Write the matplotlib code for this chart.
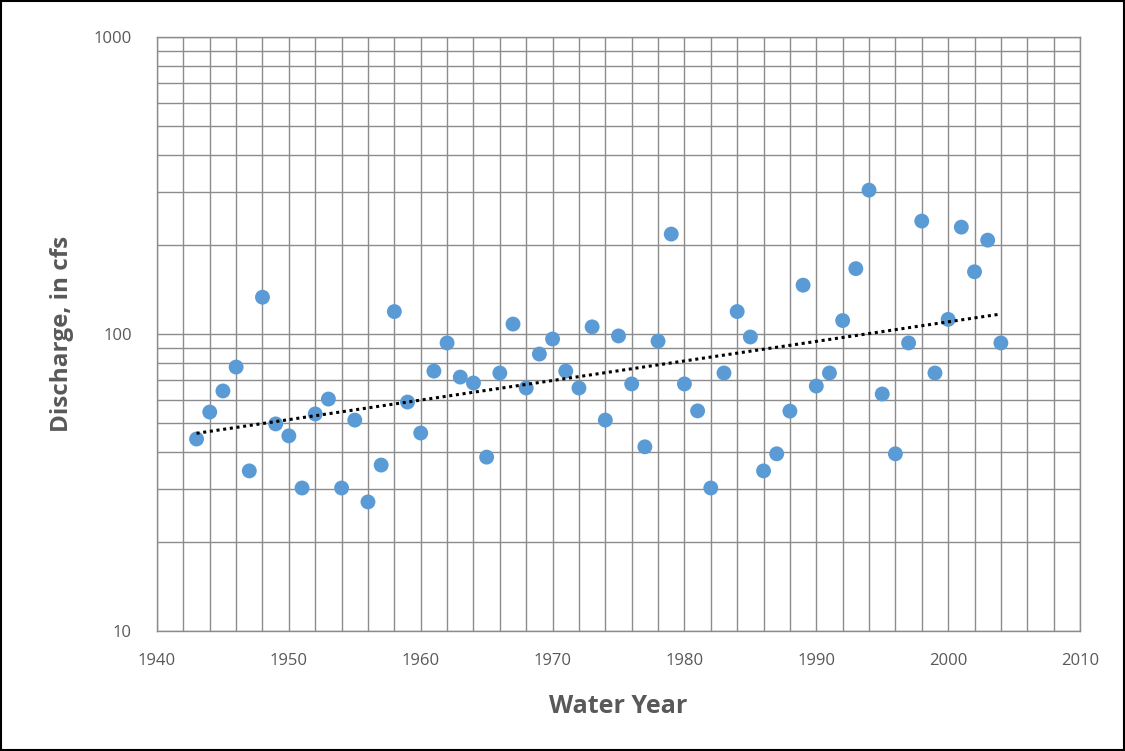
import numpy as np
import matplotlib
matplotlib.use("Agg")
import matplotlib.pyplot as plt
from matplotlib.ticker import FixedLocator, NullFormatter, MultipleLocator
from matplotlib.patches import Rectangle

years = list(range(1943, 2005))
discharge = [44.3, 54.6, 64.3, 77.4, 34.6, 133, 49.8, 45.4, 30.3, 53.8,
             60.4, 30.3, 51.3, 27.2, 36.2, 119, 59.0, 46.4, 75, 93.3,
             71.6, 68.4, 38.5, 73.9, 108, 65.8, 85.6, 96.2, 75, 65.8,
             105.7, 51.3, 98.5, 67.9, 41.7, 94.6, 217, 67.9, 55.1, 30.3,
             73.9, 119, 97.7, 34.6, 39.5, 55, 146, 66.8, 73.9, 111,
             166, 305, 62.8, 39.5, 93.3, 240, 73.9, 112, 229, 162,
             207, 93.3]
x_ticks = [1940, 1950, 1960, 1970, 1980, 1990, 2000, 2010]
y_ticks = [10, 100, 1000]

plt.rcParams['font.family'] = ['Open Sans', 'DejaVu Sans']

fig = plt.figure(figsize=(11.25, 7.51), dpi=100)
ax = fig.add_axes([157/1125, 1-631/751, (1080-157)/1125, (631-37)/751])

yrs = np.array(years, dtype=float)
q = np.array(discharge, dtype=float)

grid_c = '#8c8c8c'
ax.set_yscale('log')
ax.set_xlim(1940, 2010)
ax.set_ylim(10, 1000)
ax.xaxis.set_major_locator(FixedLocator(x_ticks))
ax.xaxis.set_minor_locator(MultipleLocator(2))
ax.yaxis.set_major_locator(FixedLocator(y_ticks))
ax.yaxis.set_minor_locator(FixedLocator([v * d for d in (10, 100) for v in range(2, 10)]))
ax.yaxis.set_minor_formatter(NullFormatter())
ax.set_yticklabels([str(v) for v in y_ticks])
ax.grid(True, which='both', color=grid_c, linewidth=1.0)
ax.set_axisbelow(True)
ax.tick_params(which='both', length=0, colors='#595959', labelsize=12)
ax.tick_params(axis='x', pad=16)
ax.tick_params(axis='y', pad=18)
for s in ax.spines.values():
    s.set_color(grid_c)
    s.set_linewidth(1.0)

ax.scatter(yrs, q, s=115, color='#5B9BD5', edgecolors='none', zorder=3)

# exponential trendline
b, a = np.polyfit(yrs, np.log(q), 1)
xt = np.array([yrs.min(), yrs.max()])
ax.plot(xt, np.exp(a + b * xt), color='black', linestyle=(0, (1, 1.2)),
        linewidth=2.2, zorder=4)

ax.set_xlabel('Water Year', fontsize=18, fontweight='bold', color='#595959', labelpad=18)
ax.set_ylabel('Discharge, in cfs', fontsize=17.5, fontweight='bold', color='#595959', labelpad=14)

fig.patches.append(Rectangle((0.001, 0.001), 0.998, 0.998, transform=fig.transFigure,
                             fill=False, edgecolor='black', linewidth=1.5))

fig.savefig('out.png', dpi=100)
